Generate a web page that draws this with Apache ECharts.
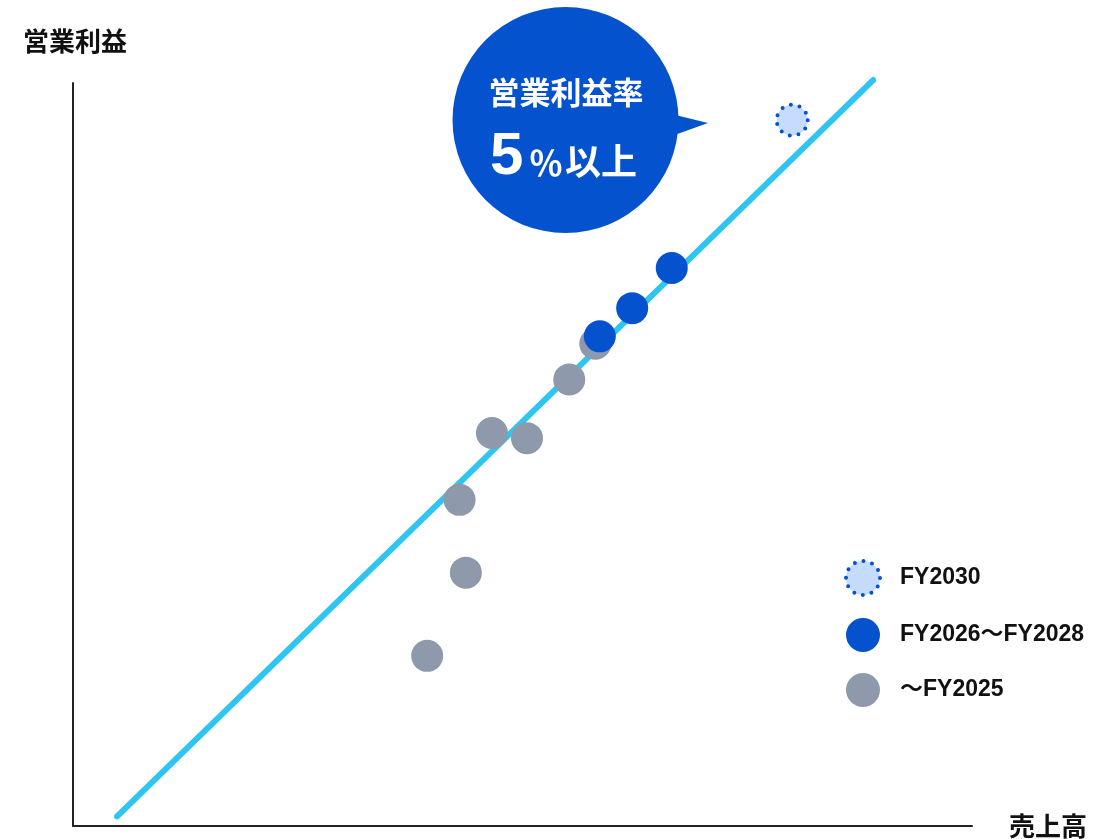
<!DOCTYPE html>
<html>
<head>
<meta charset="utf-8">
<script src="https://cdn.jsdelivr.net/npm/echarts@6/dist/echarts.min.js"></script>
<style>html,body{margin:0;padding:0;background:#fff;}#c{width:1115px;height:839px;}</style>
</head>
<body>
<div id="c"></div>
<script>
// Data (relative units: sales on x, operating profit on y)
const seriesNames = ['〜FY2025', 'FY2026〜FY2028', 'FY2030'];
const legendOrder = ['FY2030', 'FY2026〜FY2028', '〜FY2025'];
const pastPoints = [[39.4, 22.9], [43.7, 34.1], [43.0, 43.9], [46.6, 52.9], [50.5, 52.2], [55.2, 60.1], [58.1, 64.9]];
const midPoints = [[58.6, 65.9], [62.2, 69.7], [66.6, 75.1]];
const targetPoints = [[80.0, 95.0]];
const marginLine = [[4.9, 1.3], [89.0, 100.4]];
const axisNames = { x: '売上高', y: '営業利益' };
const bubbleTitle = '営業利益率';
const bubbleValue = '5';
const bubblePercent = '％';
const bubbleSuffix = '以上';

const FONT = '"Liberation Sans", "Noto Sans CJK JP", sans-serif';
const JFONT = '"Noto Sans CJK JP", "Liberation Sans", sans-serif';
const GRAY = '#8e9aab';
const BLUE = '#0452cd';
const LIGHT = '#c6dcff';
const CYAN = '#2ec6f1';

const targetStyle = { color: LIGHT, borderColor: BLUE, borderWidth: 4, borderType: [0, 8.9], borderCap: 'round' };

const chart = echarts.init(document.getElementById('c'));
chart.setOption({
  animation: false,
  backgroundColor: '#fff',
  grid: { left: 73, right: 143, top: 83, bottom: 9 },
  xAxis: {
    type: 'value', min: 0, max: 100,
    name: axisNames.x, nameLocation: 'end', nameGap: 37,
    nameTextStyle: { fontFamily: JFONT, fontSize: 26, fontWeight: 'bold', color: '#111', verticalAlign: 'middle' },
    axisLine: { show: true, lineStyle: { color: '#222', width: 2 } },
    axisTick: { show: false }, axisLabel: { show: false }, splitLine: { show: false }
  },
  yAxis: {
    type: 'value', min: 0, max: 100,
    name: axisNames.y, nameLocation: 'end', nameGap: 29,
    nameTextStyle: { fontFamily: JFONT, fontSize: 26, fontWeight: 'bold', color: '#111', align: 'center', padding: [0, 0, 0, 4] },
    axisLine: { show: true, lineStyle: { color: '#222', width: 2 } },
    axisTick: { show: false }, axisLabel: { show: false }, splitLine: { show: false }
  },
  legend: {
    orient: 'vertical', left: 839, top: 554, itemWidth: 34, itemHeight: 34, itemGap: 21,
    icon: 'circle',
    textStyle: { fontFamily: FONT, fontSize: 23, fontWeight: 'bold', color: '#111', padding: [0, 0, 0, 15] },
    data: [
      { name: legendOrder[0], itemStyle: targetStyle },
      { name: legendOrder[1], itemStyle: { color: BLUE } },
      { name: legendOrder[2], itemStyle: { color: GRAY } }
    ]
  },
  series: [
    {
      type: 'line', data: marginLine, symbol: 'none', clip: false, silent: true,
      lineStyle: { color: CYAN, width: 6, cap: 'round' }, z: 1
    },
    { name: seriesNames[0], type: 'scatter', data: pastPoints, symbolSize: 32, itemStyle: { color: GRAY, opacity: 1 }, z: 2 },
    { name: seriesNames[1], type: 'scatter', data: midPoints, symbolSize: 32, itemStyle: { color: BLUE, opacity: 1 }, z: 3 },
    { name: seriesNames[2], type: 'scatter', data: targetPoints, symbolSize: 31, itemStyle: Object.assign({ opacity: 1 }, targetStyle), z: 3 }
  ],
  graphic: [
    { type: 'polygon', shape: { points: [[655, 110], [708, 123], [655, 142]] }, style: { fill: BLUE }, z: 10 },
    { type: 'circle', shape: { cx: 565.5, cy: 120, r: 113 }, style: { fill: BLUE }, z: 10 },
    { type: 'text', x: 566, y: 92, z: 11, style: { text: bubbleTitle, fill: '#fff', font: 'bold 31px ' + JFONT, textAlign: 'center', textVerticalAlign: 'middle' } },
    { type: 'text', x: 490, y: 157, z: 11, style: { text: bubbleValue, fill: '#fff', font: 'bold 60px ' + FONT, textAlign: 'left', textVerticalAlign: 'middle' } },
    { type: 'text', x: 546, y: 163, z: 11, style: { text: bubblePercent, fill: '#fff', font: 'bold 34px ' + JFONT, textAlign: 'center', textVerticalAlign: 'middle' } },
    { type: 'text', x: 565, y: 161, z: 11, style: { text: bubbleSuffix, fill: '#fff', font: 'bold 36px ' + JFONT, textAlign: 'left', textVerticalAlign: 'middle' } }
  ]
});
</script>
</body>
</html>
